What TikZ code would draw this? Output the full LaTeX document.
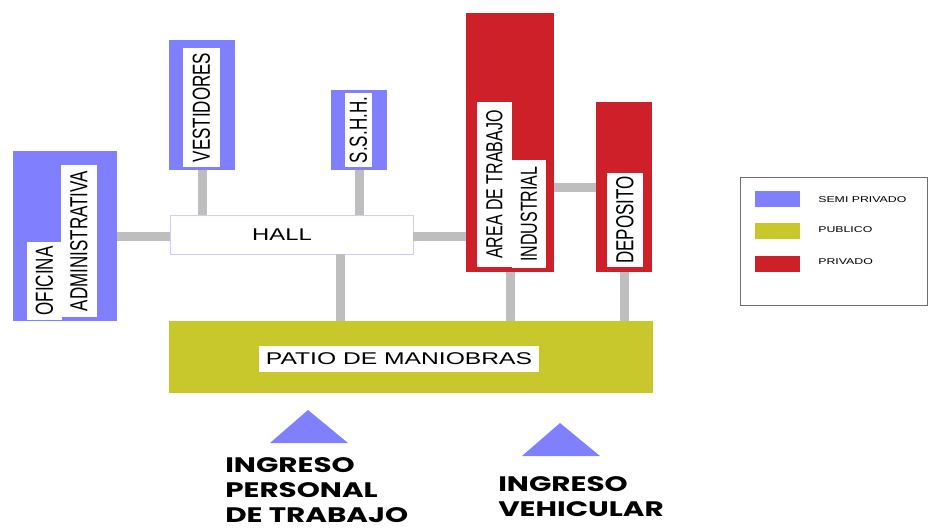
\documentclass[tikz,border=0pt]{standalone}
\usepackage{fontspec}
\setmainfont{Liberation Sans}
\newfontfamily\ingfont{Poppins}
\usetikzlibrary{positioning}
\definecolor{semiBlue}{RGB}{128,128,255}
\definecolor{publicOlive}{RGB}{200,200,45}
\definecolor{privRed}{RGB}{205,32,40}
\definecolor{linkGray}{RGB}{190,190,190}
\definecolor{hallLine}{RGB}{205,205,250}
\definecolor{legLine}{RGB}{110,110,110}

\begin{document}
\begin{tikzpicture}[
    x=1pt, y=-1pt,
    font=\fontsize{17}{20}\selectfont,
    zone/.style={rectangle, inner sep=0pt, anchor=north west},
    semi/.style={zone, fill=semiBlue},
    priv/.style={zone, fill=privRed},
    tag/.style={rectangle, fill=white, inner sep=0pt, xscale=1.45, rotate=90},
    link/.style={draw=linkGray, line width=9pt},
    wide/.style={xscale=1.4},
    swatch/.style={rectangle, minimum width=45pt, minimum height=16pt, inner sep=0pt},
    legtext/.style={anchor=west, inner sep=0pt, font=\fontsize{8.5}{10}\selectfont, xscale=1.45},
    ingreso/.style={anchor=north west, align=left, inner sep=0pt, font=\ingfont\bfseries\fontsize{21}{25}\selectfont, xscale=1.4}
  ]
    \useasboundingbox (0,0) rectangle (934,528);

    % zonas
    \node[semi, minimum width=104pt, minimum height=170pt] (ofi) at (13,151) {};
    \node[semi, minimum width=66pt, minimum height=130pt] (vest) at (169,40) {};
    \node[semi, minimum width=56pt, minimum height=80pt] (sshh) at (331,90) {};
    \node[zone, fill=white, draw=hallLine, minimum width=243pt, minimum height=39pt] (hall) at (170,215) {};
    \node[priv, minimum width=88pt, minimum height=259pt] (area) at (466,13) {};
    \node[priv, minimum width=56pt, minimum height=170pt] (depo) at (596,102) {};
    \node[zone, fill=publicOlive, minimum width=484pt, minimum height=72pt] (patio) at (169,321) {};

    % etiquetas
    \node[tag, minimum width=78pt, minimum height=24pt] (ofiA) at (44.5,281) {OFICINA};
    \node[tag, minimum width=152pt, minimum height=24.8pt] (ofiB) at (79,241) {ADMINISTRATIVA};
    \node[tag, minimum width=119pt, minimum height=25.5pt] (vestT) at (201.5,107.5) {VESTIDORES};
    \node[tag, minimum width=74pt, minimum height=18.6pt] (sshhT) at (358.5,130) {S.S.H.H.};
    \node[tag, minimum width=165pt, minimum height=24pt, font=\fontsize{16}{19}\selectfont] (areaA) at (494.5,184.5) {AREA DE TRABAJO};
    \node[tag, minimum width=108pt, minimum height=23.4pt, font=\fontsize{16}{19}\selectfont] (areaB) at (529,214) {INDUSTRIAL};
    \node[tag, minimum width=94pt, minimum height=24.8pt] (depoT) at (625,220) {DEPOSITO};
    \node[wide, inner sep=0pt] (hallT) at (282,235) {HALL};
    \node[fill=white, inner sep=0pt, minimum width=193pt, minimum height=26pt, xscale=1.45] (patioT) at (399,359) {PATIO DE MANIOBRAS};

    % conexiones
    \draw[link] (vest.south) -- (vest.south |- hall.north);
    \draw[link] (sshh.south) -- (sshh.south |- hall.north);
    \draw[link] (ofi.east) -- (ofi.east -| hall.west);
    \draw[link] (hall.east |- ofi.east) -- (area.west |- ofi.east);
    \draw[link] ([xshift=48.5pt]hall.south) -- ([xshift=48.5pt]hall.south |- patio.north);
    \draw[link] (depo.west) -- (depo.west -| area.east);
    \draw[link] (area.south) -- (area.south |- patio.north);
    \draw[link] (depo.south) -- (depo.south |- patio.north);

    % ingresos
    \fill[semiBlue] (270,443) -- (308,410) -- (348,443) -- cycle;
    \fill[semiBlue] (522,456) -- (560,423) -- (600,456) -- cycle;
    \node[ingreso] (ingP) at (225,457) {INGRESO\\PERSONAL\\DE TRABAJO};
    \node[ingreso] (ingV) at (498,476) {INGRESO\\VEHICULAR};

    % leyenda
    \node[zone, draw=legLine, minimum width=187pt, minimum height=128pt] (leg) at (740,177) {};
    \node[swatch, fill=semiBlue] (sw1) at (777.5,199) {};
    \node[swatch, fill=publicOlive] (sw2) at (777.5,231) {};
    \node[swatch, fill=privRed] (sw3) at (777.5,263.5) {};
    \node[legtext] (lg1) at (818,200) {SEMI PRIVADO};
    \node[legtext] (lg2) at (818,230) {PUBLICO};
    \node[legtext] (lg3) at (818,262) {PRIVADO};
  \end{tikzpicture}
\end{document}
